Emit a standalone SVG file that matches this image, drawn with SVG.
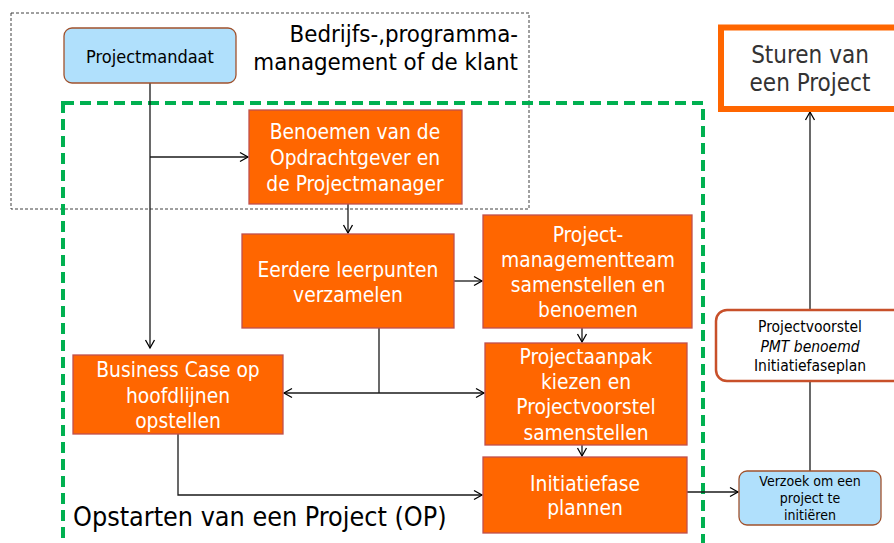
<svg xmlns="http://www.w3.org/2000/svg" width="894" height="543" viewBox="0 0 894 543">
<defs>
<marker id="ah" markerWidth="12" markerHeight="12" refX="10" refY="6" orient="auto" markerUnits="userSpaceOnUse">
<path d="M2,1.5 L10,6 L2,10.5" fill="none" stroke="#000" stroke-width="1.3"/>
</marker>
</defs>
<style>
text{font-family:"DejaVu Sans Condensed","DejaVu Sans",sans-serif;font-stretch:condensed}
.ob{fill:#ff6600;stroke:#c0504d;stroke-width:1.3}
.ot{fill:#fff;font-size:20.8px;text-anchor:middle}
.bb{fill:#b0e0fc;stroke:#a0522d;stroke-width:1.3}
.bt{fill:#000;text-anchor:middle}
.ln{fill:none;stroke:#1a1a1a;stroke-width:1.3}
.ar{marker-end:url(#ah)}
</style>
<rect width="894" height="543" fill="#fff"/>
<g id="frames">
<rect x="11" y="13" width="518" height="196" fill="none" stroke="#404040" stroke-width="1" stroke-dasharray="3 2"/>
<text x="518" y="42" font-size="23.8" text-anchor="end" fill="#000">Bedrijfs-,programma-</text>
<text x="518" y="70" font-size="23.8" text-anchor="end" fill="#000">management of de klant</text>
<rect x="63" y="103" width="640" height="470" fill="none" stroke="#00b050" stroke-width="4" stroke-dasharray="11 6"/>
<text x="73" y="526" font-size="26.7" fill="#000">Opstarten van een Project (OP)</text>
</g>
<g id="connectors">
<path class="ln ar" d="M150,83 V348"/>
<path class="ln ar" d="M150,157 H248"/>
<path class="ln ar" d="M348,204 V233"/>
<path class="ln ar" d="M454,281 H482"/>
<path class="ln ar" d="M582,328 V342"/>
<path class="ln ar" d="M582,445 V456"/>
<path class="ln" d="M379,328 V393"/>
<path class="ln ar" d="M379,393 H284"/>
<path class="ln ar" d="M379,393 H484"/>
<path class="ln ar" d="M178,434 V495 H482"/>
<path class="ln ar" d="M687,492 H738"/>
<path class="ln ar" d="M810,471 V112"/>
</g>
<g id="projectmandaat">
<rect class="bb" x="64" y="28" width="172" height="55" rx="8"/>
<text class="bt" x="150" y="63" font-size="18">Projectmandaat</text>
</g>
<g id="benoemen">
<rect class="ob" x="249" y="110" width="213" height="94"/>
<text class="ot" x="355" y="139">Benoemen van de</text>
<text class="ot" x="355" y="165">Opdrachtgever en</text>
<text class="ot" x="355" y="191">de Projectmanager</text>
</g>
<g id="eerdere">
<rect class="ob" x="242" y="234" width="212" height="94"/>
<text class="ot" x="348" y="277">Eerdere leerpunten</text>
<text class="ot" x="348" y="302">verzamelen</text>
</g>
<g id="pmt">
<rect class="ob" x="483" y="215" width="209" height="113"/>
<text class="ot" x="588" y="242">Project-</text>
<text class="ot" x="588" y="267">managementteam</text>
<text class="ot" x="588" y="292">samenstellen en</text>
<text class="ot" x="588" y="317">benoemen</text>
</g>
<g id="businesscase">
<rect class="ob" x="73" y="355" width="210" height="79"/>
<text class="ot" x="178" y="377">Business Case op</text>
<text class="ot" x="178" y="403">hoofdlijnen</text>
<text class="ot" x="178" y="428">opstellen</text>
</g>
<g id="projectaanpak">
<rect class="ob" x="485" y="343" width="202" height="102"/>
<text class="ot" x="586" y="364">Projectaanpak</text>
<text class="ot" x="586" y="389">kiezen en</text>
<text class="ot" x="586" y="414">Projectvoorstel</text>
<text class="ot" x="586" y="440">samenstellen</text>
</g>
<g id="initiatiefase">
<rect class="ob" x="483" y="457" width="204" height="76"/>
<text class="ot" x="585" y="491">Initiatiefase</text>
<text class="ot" x="585" y="515">plannen</text>
</g>
<g id="sturen">
<rect x="721" y="27.5" width="180" height="81.5" fill="#fff" stroke="#ff6600" stroke-width="6"/>
<text x="810" y="63" font-size="24" text-anchor="middle" fill="#333">Sturen van</text>
<text x="810" y="91" font-size="24" text-anchor="middle" fill="#333">een Project</text>
</g>
<g id="projectvoorstel">
<rect x="716" y="310" width="190" height="71" rx="11" fill="#fff" stroke="#c8502a" stroke-width="2.5"/>
<text class="bt" x="810" y="332" font-size="15.5">Projectvoorstel</text>
<text class="bt" x="810" y="352" font-size="15.5" font-style="italic">PMT benoemd</text>
<text class="bt" x="810" y="371" font-size="15.5">Initiatiefaseplan</text>
</g>
<g id="verzoek">
<rect class="bb" x="739" y="471" width="142" height="54" rx="8"/>
<text class="bt" x="810" y="486" font-size="14">Verzoek om een</text>
<text class="bt" x="810" y="503" font-size="14">project te</text>
<text class="bt" x="810" y="520" font-size="14">initiëren</text>
</g>
</svg>
